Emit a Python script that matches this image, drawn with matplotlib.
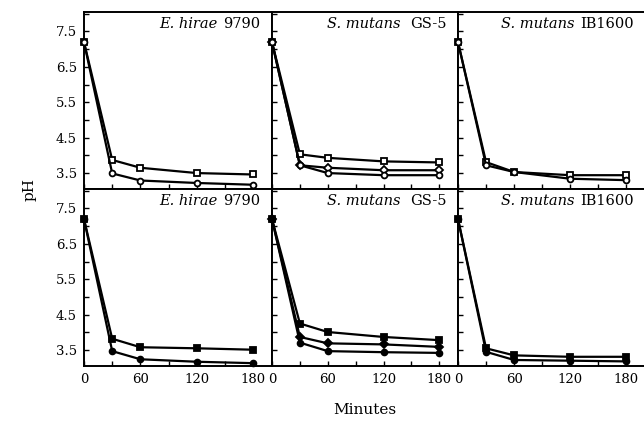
import matplotlib
matplotlib.use("Agg")
import matplotlib.pyplot as plt
from matplotlib.ticker import MultipleLocator, FixedLocator
from matplotlib.transforms import offset_copy

plt.rcParams['font.family'] = ['DejaVu Serif']

minutes = [0, 30, 60, 120, 180]

# Top row (open symbols)
hirae_open_sq = [7.2, 3.87, 3.65, 3.50, 3.46]
hirae_open_ci = [7.2, 3.49, 3.29, 3.22, 3.17]
gs5_open_sq = [7.2, 4.03, 3.93, 3.83, 3.80]
gs5_open_mid = [7.2, 3.72, 3.65, 3.58, 3.58]
gs5_open_ci = [7.2, 3.72, 3.50, 3.44, 3.44]
ib_open_sq = [7.2, 3.81, 3.53, 3.44, 3.44]
ib_open_ci = [7.2, 3.72, 3.53, 3.34, 3.30]

# Bottom row (filled symbols)
hirae_fill_sq = [7.2, 3.82, 3.58, 3.55, 3.51]
hirae_fill_ci = [7.2, 3.47, 3.24, 3.17, 3.13]
gs5_fill_sq = [7.2, 4.25, 4.01, 3.87, 3.78]
gs5_fill_mid = [7.2, 3.87, 3.69, 3.66, 3.59]
gs5_fill_ci = [7.2, 3.71, 3.47, 3.44, 3.42]
ib_fill_sq = [7.2, 3.55, 3.35, 3.31, 3.31]
ib_fill_ci = [7.2, 3.45, 3.22, 3.20, 3.18]

species = ["E. hirae", "S. mutans", "S. mutans"]
strains = ["9790", "GS-5", "IB1600"]

yticks = [3.5, 4.5, 5.5, 6.5, 7.5]
xticks = [0, 60, 120, 180]

top_series = [
    [(hirae_open_sq, 's'), (hirae_open_ci, 'o')],
    [(gs5_open_sq, 's'), (gs5_open_mid, 'D'), (gs5_open_ci, 'o')],
    [(ib_open_sq, 's'), (ib_open_ci, 'o')],
]
bot_series = [
    [(hirae_fill_sq, 's'), (hirae_fill_ci, 'o')],
    [(gs5_fill_sq, 's'), (gs5_fill_mid, 'D'), (gs5_fill_ci, 'o')],
    [(ib_fill_sq, 's'), (ib_fill_ci, 'o')],
]

W, H = 644, 421
fig = plt.figure(figsize=(W / 100, H / 100), dpi=100)
renderer = fig.canvas.get_renderer()

lefts = [84, 272, 458]
rights = [272, 458, 645]
tops = [12, 189]
bottoms = [189, 366]
gaps = [6, 10, 6]

for r in range(2):
    for c in range(3):
        x0 = lefts[c] / W
        w = (rights[c] - lefts[c]) / W
        y0 = 1 - bottoms[r] / H
        h = (bottoms[r] - tops[r]) / H
        ax = fig.add_axes([x0, y0, w, h])
        series = top_series[c] if r == 0 else bot_series[c]
        for vals, mk in series:
            sz = 4.2 if mk != 'D' else 3.6
            ax.plot(minutes, vals, color='black', lw=1.6, marker=mk,
                    markersize=sz, markeredgewidth=1.3,
                    markerfacecolor='white' if r == 0 else 'black',
                    markeredgecolor='black', clip_on=False, zorder=3)
        ax.set_xlim(0, 200)
        ax.set_ylim(3.05, 8.05)
        ax.yaxis.set_major_locator(FixedLocator(yticks))
        ax.yaxis.set_minor_locator(MultipleLocator(0.5))
        ax.xaxis.set_major_locator(FixedLocator(xticks))
        ax.xaxis.set_minor_locator(MultipleLocator(30))
        ax.tick_params(which='both', direction='in', length=3.5, width=1.0,
                       top=False, right=False, labelsize=9.5, pad=5)
        for s in ax.spines.values():
            s.set_linewidth(1.4)
        if c == 2:
            ax.spines['right'].set_visible(False)
        if c != 0:
            ax.set_yticklabels([])
        if r == 0:
            ax.set_xticklabels([])
        t_strain = ax.text(0.94, 0.935, strains[c], transform=ax.transAxes,
                           ha='right', va='center', fontsize=10.5,
                           color='black')
        wpx = t_strain.get_window_extent(renderer=renderer).width
        tr = offset_copy(ax.transAxes, fig=fig,
                         x=-(wpx + gaps[c]) * 72 / 100, y=0, units='points')
        ax.text(0.94, 0.935, species[c], transform=tr, ha='right',
                va='center', fontsize=10.5, style='italic', color='black')

fig.text(30 / W, 1 - 190 / H, "pH", rotation=90, ha='center', va='center',
         fontsize=11)
fig.text(365 / W, 1 - 410 / H, "Minutes", ha='center', va='center',
         fontsize=11)

fig.savefig("out.png", dpi=100)
